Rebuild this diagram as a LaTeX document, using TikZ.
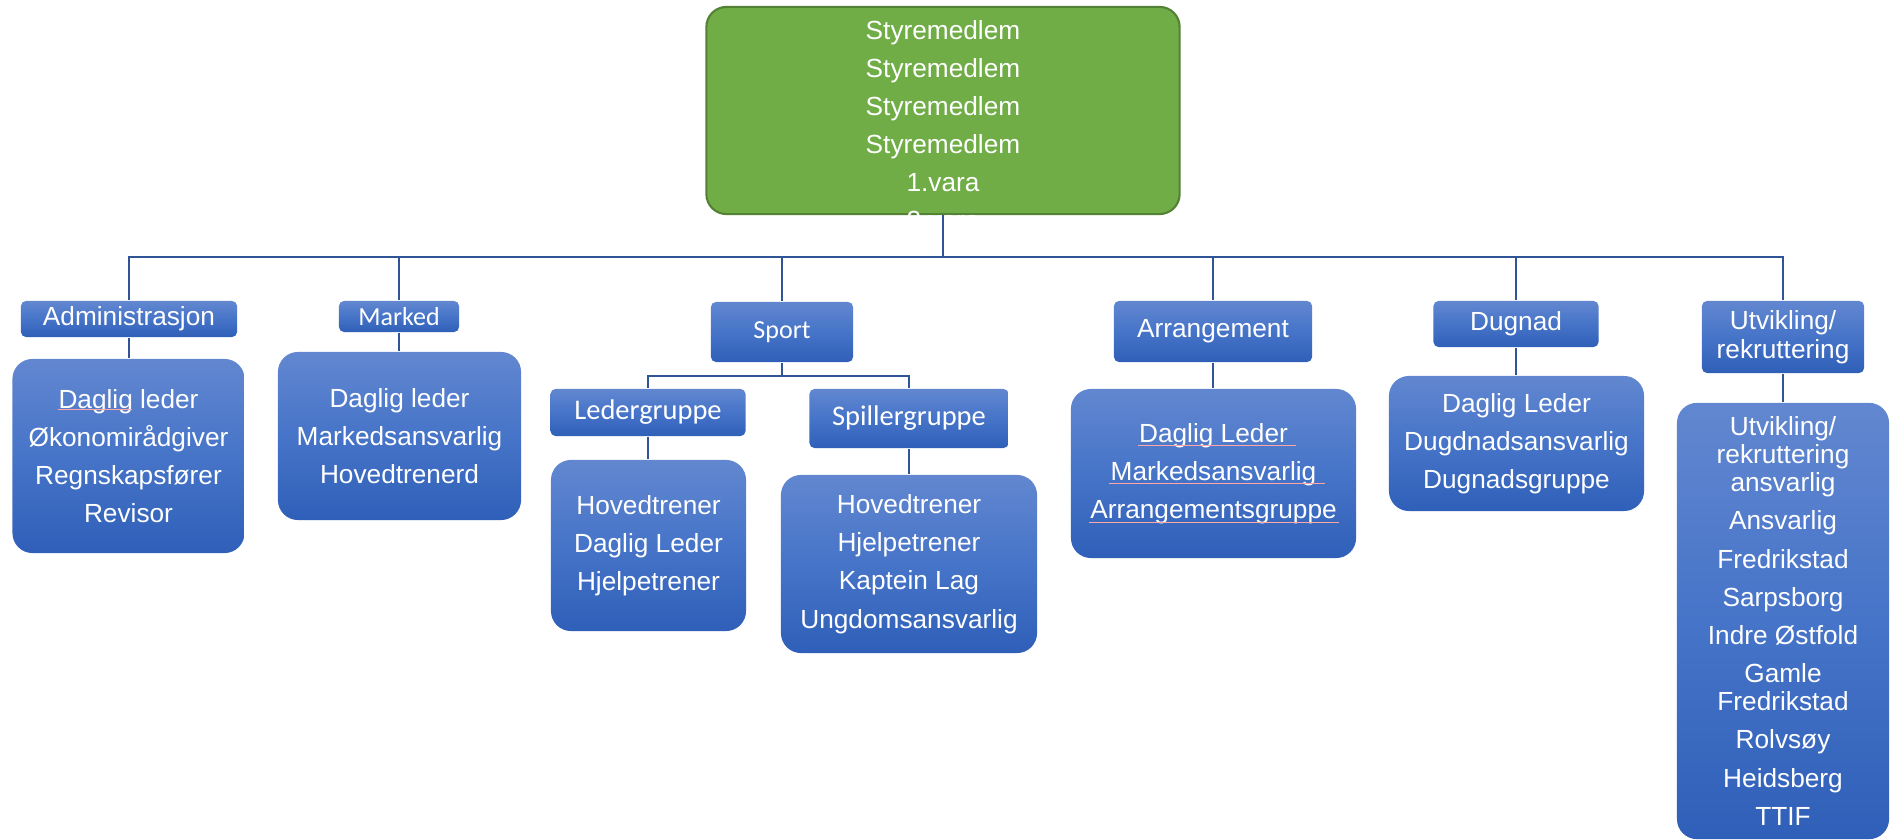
\documentclass[tikz,border=0pt]{standalone}
\usepackage{fontspec}
\setmainfont{Liberation Sans}
\newfontfamily\calfont{Carlito}
\definecolor{boxtop}{HTML}{6287D0}
\definecolor{boxmid}{HTML}{4674C8}
\definecolor{boxbot}{HTML}{2F5FB8}
\definecolor{boardfill}{HTML}{70AD47}
\definecolor{boardline}{HTML}{548235}
\definecolor{linkblue}{HTML}{2F5597}

\begin{document}
\begin{tikzpicture}[x=0.01cm,y=-0.01cm,
  shaded/.style={top color=boxtop,bottom color=boxbot,middle color=boxmid,text=white,inner sep=0pt,align=center},
  hdr/.style={shaded,rounded corners=0.05cm,font=\fontsize{7.46}{8.2}\selectfont},
  grp/.style={shaded,rounded corners=0.05cm,font=\calfont\fontsize{7.4}{8.2}\selectfont},
  body/.style={shaded,rounded corners=0.2cm,font=\fontsize{7.46}{10.85}\selectfont},
  board/.style={fill=boardfill,draw=boardline,line width=0.6pt,rounded corners=0.2cm},
  link/.style={draw=linkblue,line width=0.45pt},
  spell/.style={draw=red!35!white,line width=0.25pt}]

    \useasboundingbox (0,0) rectangle (1894,840);

    \node[board,minimum width=4.73cm,minimum height=2.07cm]   (board) at (943,110.5) {};
    \begin{scope}
      \clip (board.south west) rectangle (board.north east);
      \node[text=white,align=center,font=\fontsize{7.46}{10.77}\selectfont] (members) at (943,125)
        {Styremedlem\\Styremedlem\\Styremedlem\\Styremedlem\\1.vara\\2.vara};
    \end{scope}

    % avdelinger
    \node[hdr,minimum width=2.16cm,minimum height=0.36cm]   (adm) at (129,319)       {Administrasjon};
    \node[grp,minimum width=1.20cm,minimum height=0.31cm]   (mark) at (399,316.5)    {Marked};
    \node[grp,minimum width=1.42cm,minimum height=0.60cm]   (sport) at (782,332)     {Sport};
    \node[hdr,minimum width=1.98cm,minimum height=0.61cm]   (arr) at (1213,331.5)    {Arrangement};
    \node[hdr,minimum width=1.65cm,minimum height=0.46cm]   (dug) at (1516,324)      {Dugnad};
    \node[hdr,minimum width=1.62cm,minimum height=0.72cm]   (utv) at (1783,337)      {Utvikling/\\rekruttering};

    \node[grp,font=\calfont\fontsize{8.1}{9}\selectfont,minimum width=1.95cm,minimum height=0.47cm] (leder) at (648,412.5)     {Ledergruppe};
    \node[grp,font=\calfont\fontsize{8.1}{9}\selectfont,minimum width=1.99cm,minimum height=0.59cm] (spiller) at (909,418.5)   {Spillergruppe};

    % roller
    \node[body,minimum width=2.32cm,minimum height=1.94cm]  (admb) at (128.5,456)
      {Daglig leder\\Økonomirådgiver\\Regnskapsfører\\Revisor};
    \node[body,minimum width=2.43cm,minimum height=1.68cm]  (markb) at (399.5,436)
      {Daglig leder\\Markedsansvarlig\\Hovedtrenerd};
    \node[body,minimum width=1.95cm,minimum height=1.71cm]  (lederb) at (648.5,545.5)
      {Hovedtrener\\Daglig Leder\\Hjelpetrener};
    \node[body,minimum width=2.56cm,minimum height=1.78cm]  (spillerb) at (909,564)
      {Hovedtrener\\Hjelpetrener\\Kaptein Lag\\Ungdomsansvarlig};
    \node[body,minimum width=2.85cm,minimum height=1.69cm]  (arrb) at (1213.5,473.5)
      {Daglig Leder\\Markedsansvarlig\\Arrangementsgruppe};
    \node[body,minimum width=2.55cm,minimum height=1.35cm]  (dugb) at (1516.5,443.5)
      {Daglig Leder\\Dugdnadsansvarlig\\Dugnadsgruppe};
    \node[body,font=\fontsize{7.46}{7.94}\selectfont,minimum width=2.12cm,minimum height=4.36cm] (utvb) at (1783,621)
      {Utvikling/\\rekruttering\\ansvarlig\\[2.93pt]Ansvarlig\\[2.93pt]Fredrikstad\\[2.93pt]Sarpsborg\\[2.93pt]Indre Østfold\\[2.93pt]Gamle\\Fredrikstad\\[2.93pt]Rolvsøy\\[2.93pt]Heidsberg\\[2.93pt]TTIF};

    \coordinate (bus) at (943,257);
    \coordinate (sbus) at (782,376);

    \draw[link] (board.south) -- (bus);
    \foreach \n in {adm,mark,sport,arr,dug,utv}
      \draw[link] (bus) -| (\n.north);
    \draw[link] (sport.south) -- (sbus);
    \foreach \n in {leder,spiller}
      \draw[link] (sbus) -| (\n.north);
    \foreach \a/\b in {adm/admb,mark/markb,leder/lederb,spiller/spillerb,arr/arrb,dug/dugb,utv/utvb}
      \draw[link] (\a.south) -- (\a.south |- \b.north);

    \draw[spell] (58,409) -- (132,409);
    \draw[spell] (1138,445) -- (1296,445);
    \draw[spell] (1109,483) -- (1325,483);
    \draw[spell] (1089,522) -- (1339,522);
  \end{tikzpicture}
\end{document}
